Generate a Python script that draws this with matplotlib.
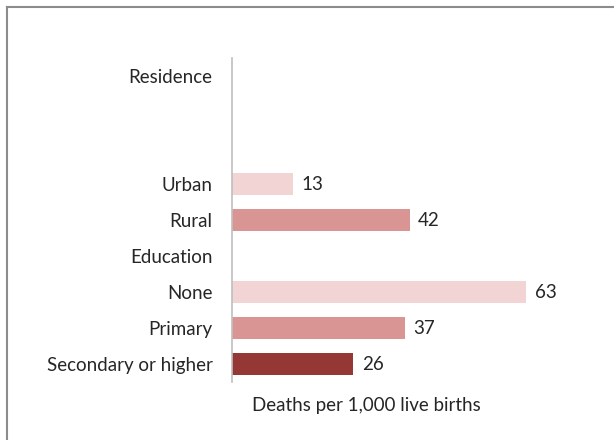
import numpy as np
import matplotlib.pyplot as plt
from matplotlib.lines import Line2D

# Data (empty slots keep the gaps of the original layout)
categories = ["Residence", "", "", "Urban", "Rural", "Education",
              "None", "Primary", "Secondary or higher"]
values = [np.nan, np.nan, np.nan, 13, 38, np.nan, 63, 37, 26]
value_labels = ["", "", "", "13", "42", "", "63", "37", "26"]
bar_colors = ["white", "white", "white", "#F2D4D4", "#D99594", "white",
              "#F2D4D4", "#D99594", "#953735"]

text_color = "#262626"
fsize = 13.5
plt.rcParams['font.family'] = ['Lato', 'DejaVu Sans']

fig = plt.figure(figsize=(6.14, 4.40), dpi=100)
ax = fig.add_axes([232 / 614, 1 - 382 / 440, 327 / 614, 324 / 440])

y = np.arange(len(categories))
ax.barh(y, values, height=0.6, color=bar_colors)

for yi, v, lab in zip(y, values, value_labels):
    if lab:
        ax.annotate(lab, xy=(v, yi), xytext=(6, 0), textcoords='offset points',
                    va='center', ha='left', fontsize=fsize, color=text_color)

ax.set_xlim(0, 70)
ax.set_ylim(len(categories) - 0.5, -0.5)
ax.set_yticks(y)
ax.set_yticklabels(categories, fontsize=fsize, color=text_color)
ax.tick_params(axis='y', length=0, pad=14)
ax.set_xticks([])

for side in ['top', 'right', 'bottom']:
    ax.spines[side].set_visible(False)
ax.spines['left'].set_color('#BFBFBF')
ax.spines['left'].set_linewidth(1.2)

ax.text((366 - 232) / 327, -(405 - 382) / 324, "Deaths per 1,000 live births",
        transform=ax.transAxes, ha='center', va='center', fontsize=fsize,
        color=text_color)

# chart frame (only top and left edges are visible in the crop)
fx = 6.5 / 614
fy = 1 - 7.5 / 440
fig.add_artist(Line2D([fx, 1], [fy, fy], transform=fig.transFigure,
                      color='#8C8C8C', lw=1.5))
fig.add_artist(Line2D([fx, fx], [0, fy], transform=fig.transFigure,
                      color='#8C8C8C', lw=1.5))

fig.savefig('out.png', dpi=100)
